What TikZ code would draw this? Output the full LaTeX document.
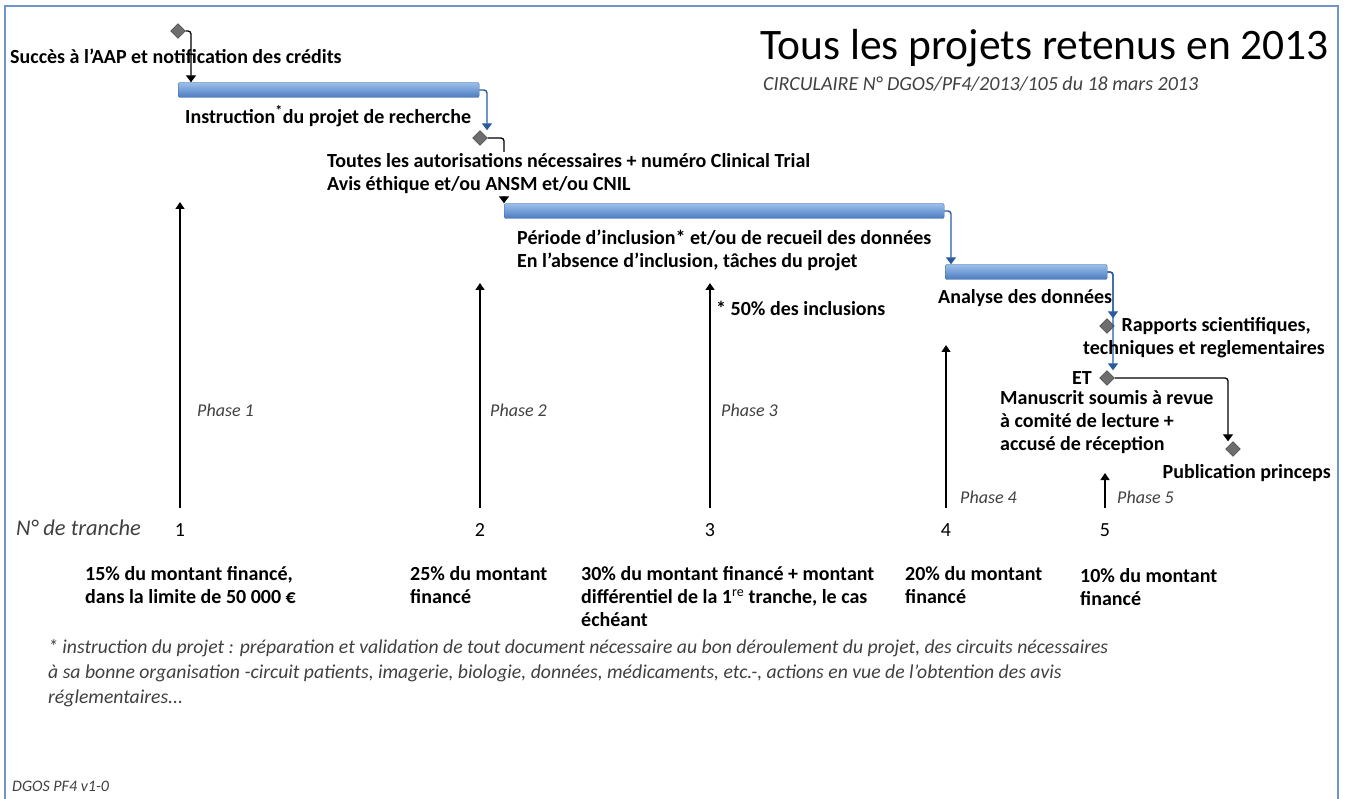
\documentclass[tikz,border=0pt]{standalone}
\usepackage{fontspec}
\setmainfont{Carlito}
\usetikzlibrary{shapes.geometric, arrows.meta}

\definecolor{framec}{HTML}{7095C8}
\definecolor{barhi}{HTML}{9DC0EC}
\definecolor{barlo}{HTML}{4A7BBE}
\definecolor{barline}{HTML}{3A66A0}
\definecolor{flowblue}{HTML}{2A5AA0}
\definecolor{milefill}{HTML}{6E6E6E}
\definecolor{phasegray}{HTML}{404040}

\tikzset{
  bar/.style = {draw=barline, rounded corners=2pt, top color=barhi, bottom color=barlo,
                minimum height=15pt, inner sep=0pt, anchor=west},
  mile/.style = {diamond, draw=black!80, fill=milefill, minimum size=15pt, inner sep=0pt},
  flowb/.style = {draw=flowblue, line width=1.4pt, rounded corners=3pt,
                  -{Triangle[width=10pt,length=7pt]}},
  flowk/.style = {draw=black, line width=1.3pt, rounded corners=3pt,
                  -{Triangle[width=10pt,length=7pt]}},
  up/.style = {draw=black, line width=1.3pt, -{Triangle[width=9pt,length=7pt]}},
  txt/.style = {inner sep=0pt, anchor=west, align=left, font=\fontsize{20}{23}\selectfont\bfseries},
  phase/.style = {inner sep=0pt, anchor=west, text=phasegray, font=\fontsize{18}{22}\selectfont\itshape},
  num/.style = {inner sep=0pt, font=\fontsize{20}{24}\selectfont}
}

\begin{document}
\begin{tikzpicture}[x=1pt, y=-1pt]
  \useasboundingbox (0,0) rectangle (1347,799);
  \draw[framec, line width=1.5pt] (5,799) |- (1338,6) -- (1338,799);

  % jalons et taches
  \node[mile] (d1) at (178,31) {};
  \node[mile] (d2) at (480,138) {};
  \node[mile] (dR) at (1107,326) {};
  \node[mile] (dE) at (1107,378) {};
  \node[mile] (dP) at (1233,449) {};

  \node[bar, minimum width=301pt] (b1) at (178,90) {};
  \node[bar, minimum width=440pt] (b2) at (504,211) {};
  \node[bar, minimum width=162pt] (b3) at (945,272) {};

  \draw[flowk] (d1.east) -| ([xshift=13pt]b1.north west);
  \draw[flowb] (b1.east) -| ([xshift=7pt]d2.north);
  \draw[flowk] (d2.east) -| (b2.north west);
  \draw[flowb] (b2.east) -| ([xshift=6pt]b3.north west);
  \draw[flowb] (b3.east) -| ([xshift=6pt]dR.north);
  \draw[flowb] (b3.east) -| ([xshift=6pt]dE.north);
  \draw[flowk] (dE.east) -| ([xshift=-5pt]dP.north);

  \node[txt] (succ) at (10,56) {Succès à l'AAP et notification des crédits};
  \node[txt] (instr) at (185,116) {Instruction\textsuperscript{*}du projet de recherche};
  \node[txt, fill=white, inner sep=2pt] (auto) at (325,174)
    {Toutes les autorisations nécessaires + numéro Clinical Trial\\Avis éthique et/ou ANSM et/ou CNIL};
  \node[txt] (incl) at (517,250)
    {Période d'inclusion* et/ou de recueil des données\\En l'absence d'inclusion, tâches du projet};
  \node[txt] (anal) at (938,298) {Analyse des données};
  \node[txt] (cinq) at (716,308) {* 50\% des inclusions};
  \node[txt, anchor=east, align=right] (rapp) at (1325,338)
    {Rapports scientifiques,\hspace*{14pt}\\techniques et reglementaires};
  \node[txt] (et) at (1072,378) {ET};
  \node[txt] (manu) at (1000,422)
    {Manuscrit soumis à revue\\à comité de lecture +\\accusé de réception};
  \node[txt, anchor=east] (publ) at (1331,473) {Publication princeps};

  % titre
  \node[inner sep=0pt, anchor=west, font=\fontsize{43.5}{50}\selectfont] (titre) at (760,48)
    {Tous les projets retenus en 2013};
  \node[inner sep=0pt, anchor=west, text=phasegray, font=\fontsize{20}{24}\selectfont\itshape] (circ) at (763,84)
    {CIRCULAIRE N° DGOS/PF4/2013/105 du 18 mars 2013};

  % tranches
  \node[inner sep=0pt, anchor=west, text=phasegray, font=\fontsize{22.5}{26}\selectfont\itshape] (ntr) at (16,528)
    {N° de tranche};
  \foreach \i/\x/\top in {1/180/202, 2/480/283, 3/710/283, 4/946/345, 5/1105/473} {
    \node[num] (n\i) at (\x,530) {\i};
    \coordinate (a\i) at (\x,\top);
    \draw[up] ([yshift=15pt]n\i.north) -- (a\i);
  }
  \node[phase] (p1) at (197,410) {Phase 1};
  \node[phase] (p2) at (490,410) {Phase 2};
  \node[phase] (p3) at (721,410) {Phase 3};
  \node[phase] (p4) at (960,497) {Phase 4};
  \node[phase] (p5) at (1117,497) {Phase 5};

  \node[txt] (m1) at (85,585) {15\% du montant financé,\\dans la limite de 50 000 €};
  \node[txt] (m2) at (410,585) {25\% du montant\\financé};
  \node[txt] (m3) at (581,597)
    {30\% du montant financé + montant\\différentiel de la 1\textsuperscript{\mdseries re} tranche, le cas\\échéant};
  \node[txt] (m4) at (905,585) {20\% du montant\\financé};
  \node[txt] (m5) at (1080,587) {10\% du montant\\financé};

  % note
  \node[phase, align=left, font=\fontsize{19.7}{25}\selectfont\itshape] (note) at (48,673)
    {* instruction du projet : préparation et validation de tout document nécessaire au bon déroulement du projet, des circuits nécessaires\\
     à sa bonne organisation -circuit patients, imagerie, biologie, données, médicaments, etc.-, actions en vue de l'obtention des avis\\
     réglementaires...};
  \node[phase, font=\fontsize{16}{19}\selectfont\itshape] (vers) at (12,786) {DGOS PF4 v1-0};
\end{tikzpicture}
\end{document}
